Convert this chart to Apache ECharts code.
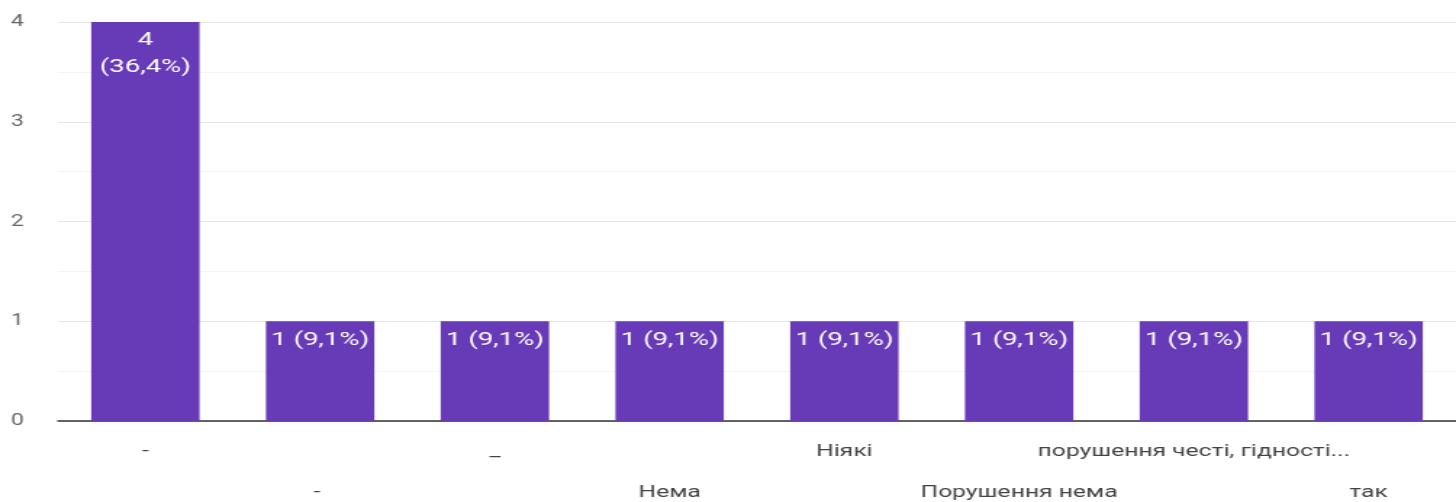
<!DOCTYPE html>
<html><head><meta charset="utf-8">
<script src="https://cdn.jsdelivr.net/npm/echarts@6/dist/echarts.min.js"></script>
<style>html,body{margin:0;padding:0;background:#fff;overflow:hidden}
#wrap{width:1456px;height:502px;overflow:hidden}
#c{width:1004px;height:502px;transform:scaleX(1.45020);transform-origin:0 0}</style>
</head><body><div id="wrap"><div id="c"></div></div>
<script>
const categories = ["-", "- ", "_", "Нема", "Ніякі", "Порушення нема", "порушення честі, гідності...", "так"];
const counts = [4, 1, 1, 1, 1, 1, 1, 1];
const percents = ["36,4%", "9,1%", "9,1%", "9,1%", "9,1%", "9,1%", "9,1%", "9,1%"];
const yTicks = [0, 1, 2, 3, 4];

const S = 1456 / 1004;
const chart = echarts.init(document.getElementById('c'));
chart.setOption({
  animation: false,
  grid: {left: 58 / S, right: -1, top: 22, bottom: 81},
  xAxis: {
    type: 'category', data: categories,
    axisTick: {show: false},
    axisLine: {lineStyle: {color: '#333', width: 1.5}},
    axisLabel: {
      interval: 0, margin: 21, color: '#444', fontSize: 17, fontFamily: 'Roboto, Arial, sans-serif',
      formatter: (v, i) => i % 2 === 0 ? '{a|' + v + '}' : '{b|' + v + '}',
      rich: {a: {fontSize: 17, color: '#444', height: 20}, b: {fontSize: 17, color: '#444', padding: [41, 0, 0, 0], height: 20}}
    }
  },
  yAxis: {
    type: 'value', min: yTicks[0], max: yTicks[yTicks.length - 1], interval: 1,
    axisLabel: {color: '#666', fontSize: 16, margin: 34 / S, fontFamily: 'Roboto, Arial, sans-serif'},
    splitLine: {lineStyle: {color: '#e6e6e6'}},
    minorTick: {show: false, splitNumber: 2},
    minorSplitLine: {show: true, lineStyle: {color: '#f4f4f4'}}
  },
  series: [{
    type: 'bar', data: counts, barWidth: '62%',
    itemStyle: {color: '#673ab7'},
    label: {
      show: true, position: 'insideTop', distance: 5, color: '#fff', fontSize: 19,
      fontFamily: 'Roboto, Arial, sans-serif', lineHeight: 27,
      formatter: p => p.value >= 2 ? p.value + '\n(' + percents[p.dataIndex] + ')' : p.value + ' (' + percents[p.dataIndex] + ')'
    }
  }]
});
</script></body></html>
